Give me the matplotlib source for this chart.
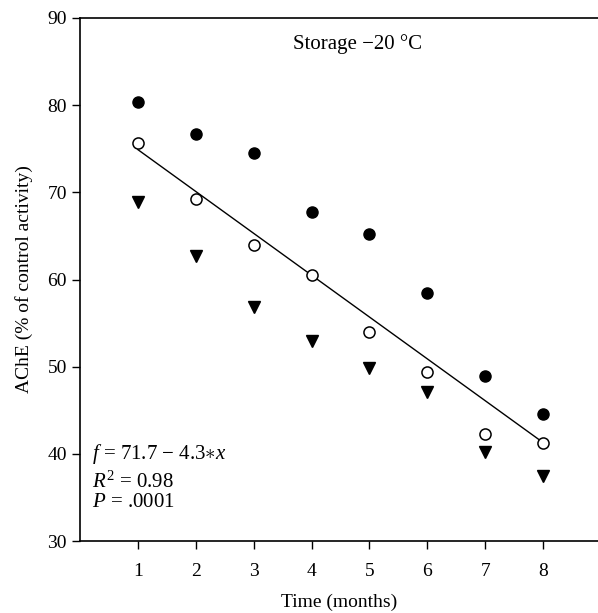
import matplotlib
matplotlib.use('Agg')
import matplotlib.pyplot as plt

plt.rcParams['font.family'] = ['Liberation Serif', 'DejaVu Serif']
plt.rcParams['mathtext.fontset'] = 'custom'
plt.rcParams['mathtext.rm'] = 'Liberation Serif'
plt.rcParams['mathtext.it'] = 'Liberation Serif:italic'

months = [1, 2, 3, 4, 5, 6, 7, 8]
filled_circles = [80.4, 76.7, 74.5, 67.7, 65.2, 58.4, 48.9, 44.6]
open_circles = [75.7, 69.2, 64.0, 60.5, 54.0, 49.4, 42.3, 41.3]
triangles = [68.9, 62.7, 56.9, 53.0, 49.9, 47.1, 40.2, 37.4]
fit_x = [1, 8]
fit_y = [74.9, 41.3]

W, H = 598, 613
fig = plt.figure(figsize=(W / 100, H / 100), dpi=100)
ax = fig.add_axes([80 / W, 1 - 541 / H, 1 - 80 / W, (541 - 18) / H])

ax.plot(fit_x, fit_y, color='black', lw=1.0, zorder=2)
ax.plot(months, filled_circles, 'o', color='black', ms=8, zorder=3)
ax.plot(months, open_circles, 'o', mfc='white', mec='black', mew=1.1, ms=8, zorder=3)
ax.plot(months, triangles, 'v', color='black', ms=8.5, zorder=3)

ax.set_xlim(0, 8.95)
ax.set_ylim(30, 90)
ax.set_xticks(months)
ax.set_yticks([30, 40, 50, 60, 70, 80, 90])
ax.tick_params(direction='out', length=6, width=1, labelsize=14)
ax.tick_params(axis='x', pad=10)
ax.spines['right'].set_visible(False)
for s in ['left', 'top', 'bottom']:
    ax.spines[s].set_linewidth(1.2)

ax.set_xlabel('Time (months)', fontsize=14, labelpad=10)
ax.set_ylabel('AChE (% of control activity)', fontsize=14, labelpad=10)

fig.text(293 / W, 1 - 44 / H, 'Storage \u221220 \u00b0C', fontsize=15, va='center')
ax.text(0.2, 40, '$f$ = 71.7 \u2212 4.3$\\ast x$', fontsize=15, va='center')
ax.text(0.2, 36.8, '$R^2$ = 0.98', fontsize=15, va='center')
ax.text(0.2, 34.4, '$P$ = .0001', fontsize=15, va='center')

fig.savefig('out.png', dpi=100)
